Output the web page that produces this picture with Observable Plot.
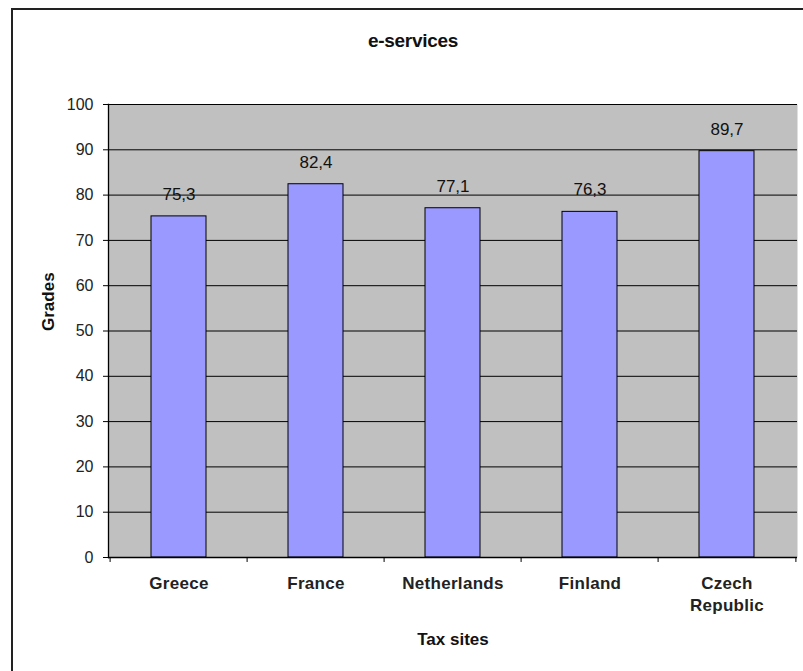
<!DOCTYPE html>
<html>
<head>
<meta charset="utf-8">
<script src="https://cdn.jsdelivr.net/npm/d3@7"></script>
<script src="https://cdn.jsdelivr.net/npm/@observablehq/plot@0.6"></script>
<style>
  html, body { margin: 0; padding: 0; background: #fff; }
  #wrap { position: relative; width: 803px; height: 671px; overflow: hidden; font-family: "Liberation Sans", Arial, sans-serif; }
  #border { position: absolute; left: 11px; top: 8px; width: 1000px; height: 1000px; border-left: 2px solid #222; border-top: 2px solid #222; }
  #title { position: relative; height: 70px; }
  #title span { position: absolute; left: 0; width: 826px; top: 29px; line-height: 24px; text-align: center; font-weight: bold; font-size: 19px; color: #111; letter-spacing: -0.3px; }
  #chart { position: relative; }
  #chart svg .cat text { letter-spacing: 0.3px; }
</style>
</head>
<body>
<div id="wrap">
  <div id="border"></div>
  <div id="title"><span>e-services</span></div>
  <div id="chart"></div>
</div>
<script>
const categories = ["Greece", "France", "Netherlands", "Finland", "Czech Republic"];
const grades = [75.3, 82.4, 77.1, 76.3, 89.7];
const valueLabels = ["75,3", "82,4", "77,1", "76,3", "89,7"];
const yTicks = [0, 10, 20, 30, 40, 50, 60, 70, 80, 90, 100];
const gridTicks = [10, 20, 30, 40, 50, 60, 70, 80, 90, 100];

const data = categories.map((c, i) => ({site: c, grade: grades[i], label: valueLabels[i]}));

const W = 803, H = 601, mL = 108, mR = 6, mT = 34, mB = 114;
const step = (W - mL - mR) / categories.length;
const font = "Liberation Sans, Arial, sans-serif";

const chart = Plot.plot({
  width: W,
  height: H,
  marginLeft: mL,
  marginRight: mR,
  marginTop: mT,
  marginBottom: mB,
  style: {fontFamily: font, background: "transparent", overflow: "visible"},
  x: {domain: categories, paddingInner: 0.6, paddingOuter: 0.3, axis: null},
  y: {domain: [0, 100], axis: null},
  marks: [
    Plot.frame({fill: "#c0c0c0"}),
    Plot.ruleY(gridTicks, {stroke: "#000", strokeWidth: 1}),
    Plot.barY(data, {x: "site", y: "grade", fill: "#9999ff", stroke: "#000", strokeWidth: 1}),
    Plot.text(data, {x: "site", y: "grade", text: "label", dy: -22, fontSize: 17, fill: "#111", lineAnchor: "middle"}),
    Plot.ruleY([0], {stroke: "#000", strokeWidth: 1.3}),
    Plot.frame({anchor: "left", stroke: "#000", strokeWidth: 1.3}),
    Plot.axisY({ticks: yTicks, label: null, tickSize: 5, tickPadding: 10, fontSize: 16, tickFormat: d => String(d), stroke: "#000", fill: "#222"}),
    Plot.ruleX(categories, {x: d => d, y1: 0, y2: -1.1, dx: -step / 2, stroke: "#000"}),
    Plot.ruleX(categories.slice(-1), {x: d => d, y1: 0, y2: -1.1, dx: step / 2, stroke: "#000"}),
    Plot.text(categories, {x: d => d, text: d => d.replace(" ", "\n"), frameAnchor: "bottom", lineAnchor: "top", dy: 15, fontSize: 17, fontWeight: "bold", fill: "#222", lineHeight: 1.33, className: "cat"}),
    Plot.text(["Tax sites"], {frameAnchor: "bottom", dy: 82, dx: 0, fontSize: 17, fontWeight: "bold", fill: "#111", lineAnchor: "middle"}),
    Plot.text(["Grades"], {frameAnchor: "left", dx: -60, rotate: -90, fontSize: 17, fontWeight: "bold", fill: "#111", lineAnchor: "middle"})
  ]
});
document.getElementById("chart").appendChild(chart);
</script>
</body>
</html>
